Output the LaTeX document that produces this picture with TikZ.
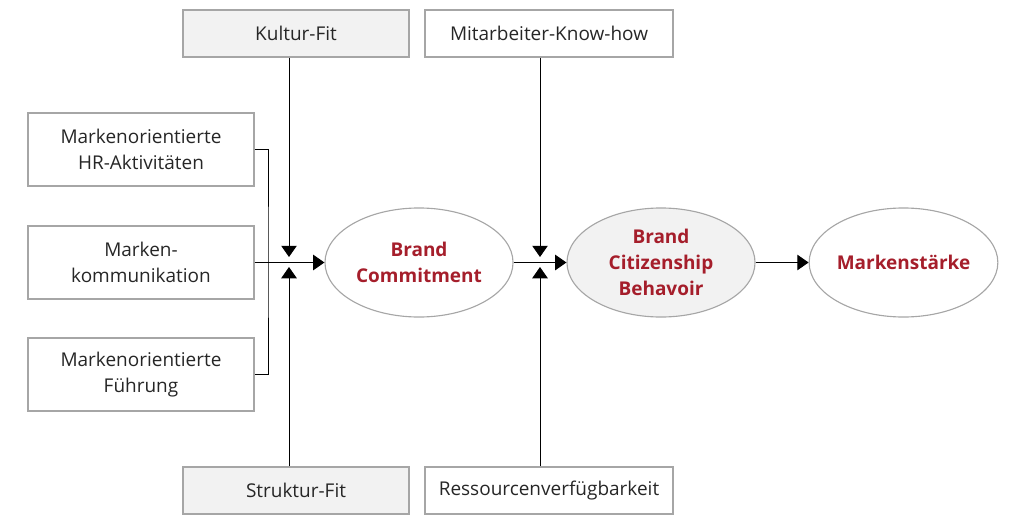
\documentclass[tikz,border=0pt]{standalone}
\usepackage{fontspec}
\setmainfont{Open Sans}
\usetikzlibrary{arrows.meta, positioning, shapes.geometric}
\definecolor{boxgray}{HTML}{F2F2F2}
\definecolor{linegray}{HTML}{A6A6A6}
\definecolor{brandred}{HTML}{A51E2B}
\tikzset{
  factor/.style={draw=linegray, line width=0.8pt, minimum width=5.65cm, minimum height=1.175cm,
    align=center, inner sep=2pt, text=black!85, font=\fontsize{13.5}{18.4}\selectfont},
  driver/.style={factor, minimum height=1.825cm},
  construct/.style={ellipse, draw=linegray, line width=0.8pt, minimum width=4.7cm, minimum height=2.725cm,
    inner sep=0pt, align=center, text=brandred, font=\bfseries\fontsize{13.5}{18.4}\selectfont},
  flow/.style={line width=0.7pt, -{Triangle[width=11pt,length=8pt]}},
}
\begin{document}
\begin{tikzpicture}[x=0.025cm, y=-0.025cm]
    \useasboundingbox (0,0) rectangle (1017,518);
    % moderators
    \node (kultur) [factor, fill=boxgray] at (296,33.5) {Kultur-Fit};
    \node (knowhow) [factor, minimum width=6.2cm] at (549,33.5) {Mitarbeiter-Know-how};
    \node (struktur) [factor, fill=boxgray] at (296,490.5) {Struktur-Fit};
    \node (ressourcen) [factor, minimum width=6.2cm] at (549,490.5) {Ressourcenverfügbarkeit};
    % drivers
    \node (hr) [driver] at (141,149.5) {Markenorientierte\\HR-Aktivitäten};
    \node (komm) [driver] at (141,262.5) {Marken-\\kommunikation};
    \node (fuehrung) [driver] at (141,374.5) {Markenorientierte\\Führung};
    % constructs
    \node (commit) [construct] at (419,262.5) {Brand\\Commitment};
    \node (bcb) [construct, fill=boxgray] at (661,262.5) {Brand\\Citizenship\\Behavoir};
    \node (staerke) [construct] at (903.5,262.5) {Markenstärke};
    \coordinate (brk) at (268,262.5);
    \coordinate (jatop) at (289,257);
    \coordinate (jabot) at (289,267);
    \coordinate (jbtop) at (540,257);
    \coordinate (jbbot) at (540,267);
    \draw[line width=0.7pt] (hr.east) -| (brk) |- (fuehrung.east);
    \draw[flow] (komm.east) -- (commit.west);
    \draw[flow] (commit.east) -- (bcb.west);
    \draw[flow] (bcb.east) -- (staerke.west);
    \draw[flow] (kultur.south -| jatop) -- (jatop);
    \draw[flow] (struktur.north -| jabot) -- (jabot);
    \draw[flow] (knowhow.south -| jbtop) -- (jbtop);
    \draw[flow] (ressourcen.north -| jbbot) -- (jbbot);
\end{tikzpicture}
\end{document}
